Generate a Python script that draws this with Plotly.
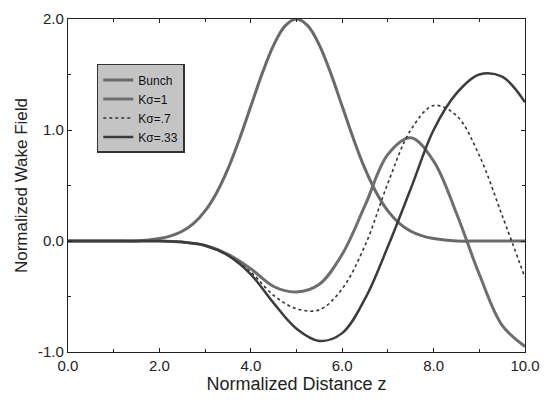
import plotly.graph_objects as go

# Bunch profile
bunch_x = [0.0, 0.5, 1.0, 1.5, 2.0, 2.25, 2.5, 2.75, 3.0, 3.25, 3.5, 3.75, 4.0, 4.25, 4.5, 4.75,
           5.0, 5.25, 5.5, 5.75, 6.0, 6.25, 6.5, 6.75, 7.0, 7.25, 7.5, 7.75, 8.0, 8.5, 9.0, 9.5, 10.0]
bunch_y = [0.0, 0.0, 0.0, 0.0, 0.022, 0.046, 0.088, 0.159, 0.271, 0.433, 0.649, 0.916, 1.213, 1.510, 1.765, 1.938,
           2.0, 1.938, 1.765, 1.510, 1.213, 0.916, 0.649, 0.433, 0.271, 0.159, 0.088, 0.046, 0.022, 0.0, 0.0, 0.0, 0.0]

# Wake field curves
wake_x = [0.0, 1.0, 2.0, 2.5, 3.0, 3.5, 4.0, 4.5, 5.0, 5.5, 6.0, 6.5, 7.0, 7.5, 8.0, 8.5, 9.0, 9.5, 10.0]
wake_a = [0, 0, 0, -0.01, -0.04, -0.12, -0.25, -0.41, -0.46, -0.39, -0.12, 0.32, 0.78, 0.93, 0.72, 0.25, -0.30, -0.76, -0.95]
wake_b = [0, 0, 0, -0.01, -0.04, -0.13, -0.28, -0.49, -0.61, -0.62, -0.43, -0.04, 0.52, 1.00, 1.22, 1.13, 0.77, 0.23, -0.33]
wake_c = [0, 0, 0, -0.01, -0.04, -0.13, -0.30, -0.56, -0.79, -0.90, -0.83, -0.52, -0.05, 0.47, 1.00, 1.33, 1.50, 1.48, 1.25]

names = ["Bunch", "Kσ=1", "Kσ=.7", "Kσ=.33"]
x_ticks = [0, 2, 4, 6, 8, 10]
x_labels = ["0.0", "2.0", "4.0", "6.0", "8.0", "10.0"]
y_ticks = [-1, 0, 1, 2]
y_labels = ["-1.0", "0.0", "1.0", "2.0"]

fig = go.Figure()
fig.add_trace(go.Scatter(x=bunch_x, y=bunch_y, mode="lines", name=names[0],
                         line=dict(color="#6a6a6a", width=3, shape="spline")))
fig.add_trace(go.Scatter(x=wake_x, y=wake_a, mode="lines", name=names[1],
                         line=dict(color="#6e6e6e", width=3, shape="spline")))
fig.add_trace(go.Scatter(x=wake_x, y=wake_b, mode="lines", name=names[2],
                         line=dict(color="#333333", width=1.6, dash="dot", shape="spline")))
fig.add_trace(go.Scatter(x=wake_x, y=wake_c, mode="lines", name=names[3],
                         line=dict(color="#3c3c3c", width=2.5, shape="spline")))

axis_common = dict(showline=True, linecolor="#222", linewidth=1.2, mirror="ticks",
                   ticks="inside", ticklen=4, tickcolor="#222", showgrid=False, zeroline=False,
                   tickfont=dict(family="Liberation Sans, Arial", size=15, color="#222"))

fig.update_xaxes(range=[0, 10], tickvals=x_ticks, ticktext=x_labels,
                 minor=dict(dtick=1, ticks="inside", ticklen=3, tickcolor="#222"),
                 title=dict(text="Normalized Distance z", standoff=2,
                            font=dict(family="Liberation Sans, Arial", size=18, color="#222")),
                 **axis_common)
fig.update_yaxes(range=[-1, 2], tickvals=y_ticks, ticktext=y_labels,
                 minor=dict(dtick=0.5, ticks="inside", ticklen=3, tickcolor="#222"),
                 title=dict(text="Normalized Wake Field", standoff=6,
                            font=dict(family="Liberation Sans, Arial", size=17, color="#222")),
                 **axis_common)

fig.update_layout(
    width=559, height=401,
    margin=dict(l=68, r=34, t=10, b=49),
    plot_bgcolor="white", paper_bgcolor="white",
    showlegend=True,
    legend=dict(x=0.063, y=0.865, xanchor="left", yanchor="top",
                bgcolor="#c4c4c4", bordercolor="#333", borderwidth=1.5,
                font=dict(family="Liberation Sans, Arial", size=12, color="#111"),
                tracegroupgap=0, itemwidth=30),
)

fig.write_html("out.html")
